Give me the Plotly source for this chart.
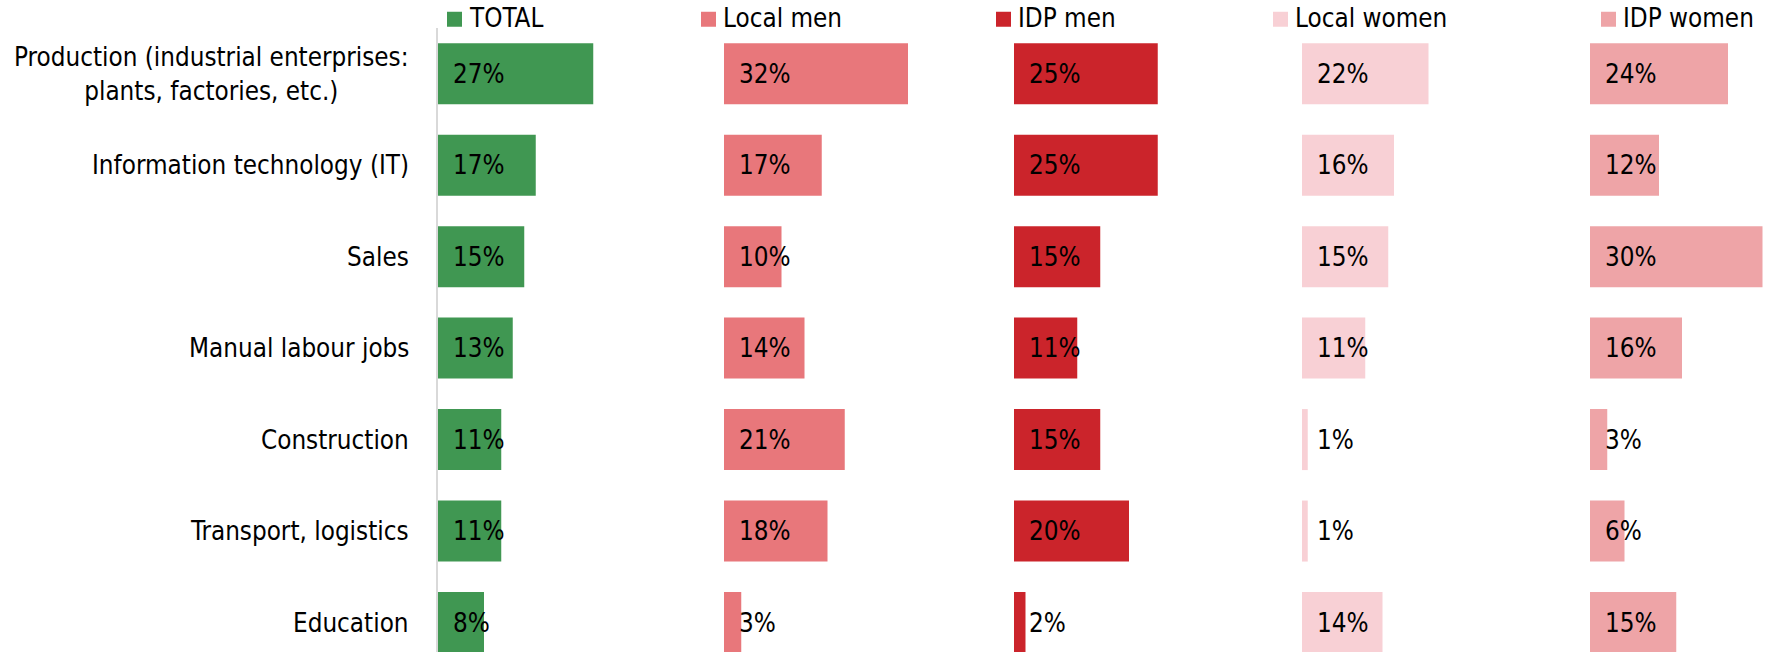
import plotly.graph_objects as go

# data
categories = [
    'Production (industrial enterprises:<br>plants, factories, etc.)',
    'Information technology (IT)',
    'Sales',
    'Manual labour jobs',
    'Construction',
    'Transport, logistics',
    'Education',
]
groups = ['TOTAL', 'Local men', 'IDP men', 'Local women', 'IDP women']
total = [27, 17, 15, 13, 11, 11, 8]
local_men = [32, 17, 10, 14, 21, 18, 3]
idp_men = [25, 25, 15, 11, 15, 20, 2]
local_women = [22, 16, 15, 11, 1, 1, 14]
idp_women = [24, 12, 30, 16, 3, 6, 15]
series = [total, local_men, idp_men, local_women, idp_women]

colors = ['#409752', '#E8777B', '#CB242B', '#F8D0D5', '#EEA4A7']

# layout constants (pixels)
W, H = 1772, 652
LEFT, TOP = 438, 27.75
ROW_H = 91.5
PX_PER_PCT = 5.75
panel_starts = [438, 724, 1014, 1302, 1590]
panel_width = 200
legend_centers = [454.5, 708.5, 1003.5, 1280.5, 1608.5]
FONT = 'DejaVu Sans Condensed, DejaVu Sans, sans-serif'
FS = 25.8

plot_w = W - LEFT
plot_h = H - TOP


def px_x(px):
    return (px - LEFT) / plot_w


def px_y(py):
    return 1 + (TOP - py) / plot_h


fig = go.Figure()
layout_axes = {}
annotations = []

for i, (name, vals, col) in enumerate(zip(groups, series, colors)):
    ax = '' if i == 0 else str(i + 1)
    start = panel_starts[i]
    end = min(start + panel_width, W)
    fig.add_trace(go.Bar(
        x=vals, y=categories, orientation='h', name=name,
        marker=dict(color=col, line_width=0),
        xaxis='x' + ax, yaxis='y', showlegend=False,
        hovertemplate='%{y}: %{x}%<extra>' + name + '</extra>',
    ))
    layout_axes['xaxis' + ax] = dict(
        domain=[px_x(start), px_x(end)],
        range=[0, (end - start) / PX_PER_PCT],
        anchor='y', visible=False, fixedrange=True,
    )
    for cat, v in zip(categories, vals):
        annotations.append(dict(
            x=0, y=cat, xref='x' + ax, yref='y', text=f'{v}%',
            xanchor='left', yanchor='middle', xshift=13, showarrow=False,
            font=dict(family=FONT, size=FS, color='#000000'),
        ))
    # legend entry
    c = legend_centers[i]
    annotations.append(dict(
        x=px_x(c + 12), y=px_y(18), xref='paper', yref='paper', text=name,
        xanchor='left', yanchor='middle', showarrow=False,
        font=dict(family=FONT, size=FS, color='#000000'),
    ))

shapes = []
for c, col in zip(legend_centers, colors):
    shapes.append(dict(
        type='rect', xref='paper', yref='paper',
        x0=px_x(c - 7.5), x1=px_x(c + 7.5), y0=px_y(26.5), y1=px_y(11.5),
        fillcolor=col, line_width=0,
    ))

# category labels, centred lines like the original
for cat in categories:
    annotations.append(dict(
        x=0, y=cat, xref='paper', yref='y', text=cat, align='center',
        xanchor='right', yanchor='middle', xshift=-27, showarrow=False,
        font=dict(family=FONT, size=FS, color='#000000'),
    ))

fig.update_layout(
    width=W, height=H,
    margin=dict(l=LEFT, r=0, t=TOP, b=0, pad=0),
    paper_bgcolor='white', plot_bgcolor='white',
    bargap=0.333,
    font=dict(family=FONT, size=FS, color='#000000'),
    yaxis=dict(
        type='category', categoryarray=categories,
        range=[(H - TOP) / ROW_H - 0.5, -0.5],
        anchor='x', showticklabels=False, ticks='',
        showgrid=False, zeroline=False,
        showline=True, linecolor='#D9D9D9', linewidth=2,
        fixedrange=True,
    ),
    annotations=annotations,
    shapes=shapes,
    **layout_axes,
)

# drop the default 8px page margin so the figure sits at the window corner
fig.write_html(
    'out.html',
    config={'displayModeBar': False},
    post_script="document.body.style.margin='0px';",
)
